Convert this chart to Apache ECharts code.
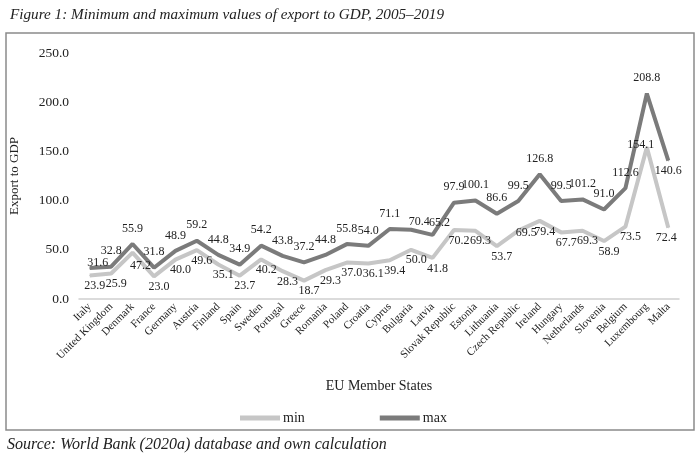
<!DOCTYPE html>
<html>
<head>
<meta charset="utf-8">
<script src="https://cdn.jsdelivr.net/npm/echarts@6/dist/echarts.min.js"></script>
<style>html,body{margin:0;padding:0;background:#fff}#c{width:700px;height:468px}</style>
</head>
<body>
<div id="c"></div>
<script>
const categories = ["Italy","United Kingdom","Denmark","France","Germany","Austria","Finland","Spain","Sweden","Portugal","Greece","Romania","Poland","Croatia","Cyprus","Bulgaria","Latvia","Slovak Republic","Estonia","Lithuania","Czech Republic","Ireland","Hungary","Netherlands","Slovenia","Belgium","Luxembourg","Malta"];
const minValues = [23.9,25.9,47.2,23.0,40.0,49.6,35.1,23.7,40.2,28.3,18.7,29.3,37.0,36.1,39.4,50.0,41.8,70.2,69.3,53.7,69.5,79.4,67.7,69.3,58.9,73.5,154.1,72.4];
const maxValues = [31.6,32.8,55.9,31.8,48.9,59.2,44.8,34.9,54.2,43.8,37.2,44.8,55.8,54.0,71.1,70.4,65.2,97.9,100.1,86.6,99.5,126.8,99.5,101.2,91.0,112.6,208.8,140.6];
const yTicks = [0,50,100,150,200,250];

const FONT = '"Liberation Serif", "DejaVu Serif", serif';

// label placement tweaks (style only, not data)
const maxLabelTweaks = {
  'Italy': {offset:[8,10]},
  'Bulgaria': {offset:[8,8]},
  'Latvia': {offset:[7,4]},
  'Malta': {position:'bottom', distance:4}
};
const minLabelTweaks = {
  'Luxembourg': {position:'inside', offset:[-6,-3]},
  'Czech Republic': {offset:[8,-8]},
  'Malta': {offset:[-2,0]},
  'Denmark': {offset:[8,3]}
};
const build = (vals, tweaks) => vals.map((v,i)=> tweaks[categories[i]] ? {value:v, label:tweaks[categories[i]]} : v);

const lbl = (pos,dist,off)=>({show:true,position:pos,distance:dist,offset:off,fontSize:12,fontFamily:FONT,color:'#222',
  formatter:p=>Number(p.value).toFixed(1)});

const chart = echarts.init(document.getElementById('c'));
chart.setOption({
  animation:false,
  textStyle:{fontFamily:FONT,color:'#222'},
  title:{text:'Figure 1: Minimum and maximum values of export to GDP, 2005\u20132019',left:5,top:3,
    textStyle:{fontFamily:FONT,fontStyle:'italic',fontWeight:'normal',fontSize:15.2,color:'#222'}},
  graphic:[
    {type:'rect',shape:{x:6,y:33,width:688,height:397},style:{fill:'none',stroke:'#8a8a8a',lineWidth:1.5},silent:true},
    {type:'text',left:7,top:437,style:{text:'Source: World Bank (2020a) database and own calculation',font:'italic 16px '+FONT,fill:'#222'}}
  ],
  legend:{top:406,left:235,itemGap:75,itemWidth:40,itemHeight:5,icon:'rect',
    textStyle:{fontFamily:FONT,fontSize:14,color:'#222',padding:[0,0,0,-2]},data:['min','max']},
  grid:{left:73,right:21,top:53,bottom:169},
  xAxis:{type:'category',data:categories,boundaryGap:true,
    name:'EU Member States',nameLocation:'middle',nameGap:80,
    nameTextStyle:{fontFamily:FONT,fontSize:14,color:'#222'},
    axisLine:{lineStyle:{color:'#d0d0d0',width:1.5}},axisTick:{show:false},
    axisLabel:{interval:0,rotate:45,fontSize:11,margin:6,fontFamily:FONT,color:'#222'}},
  yAxis:{type:'value',min:0,max:250,interval:50,
    name:'Export to GDP',nameLocation:'middle',nameGap:58,
    nameTextStyle:{fontFamily:FONT,fontSize:13,color:'#222'},
    axisLine:{show:false},axisTick:{show:false},splitLine:{show:false},
    axisLabel:{fontSize:13.5,margin:10,fontFamily:FONT,color:'#222',formatter:v=>v.toFixed(1)}},
  series:[
    {name:'min',type:'line',data:build(minValues,minLabelTweaks),symbol:'circle',symbolSize:1,showSymbol:true,color:'#c6c6c6',
      itemStyle:{color:'#c6c6c6'},lineStyle:{width:4,color:'#c6c6c6'},label:lbl('bottom',4,[5,0])},
    {name:'max',type:'line',data:build(maxValues,maxLabelTweaks),symbol:'circle',symbolSize:1,showSymbol:true,color:'#7b7b7b',
      itemStyle:{color:'#7b7b7b'},lineStyle:{width:4,color:'#7b7b7b'},label:lbl('top',9,[0,0])}
  ]
});
</script>
</body>
</html>
